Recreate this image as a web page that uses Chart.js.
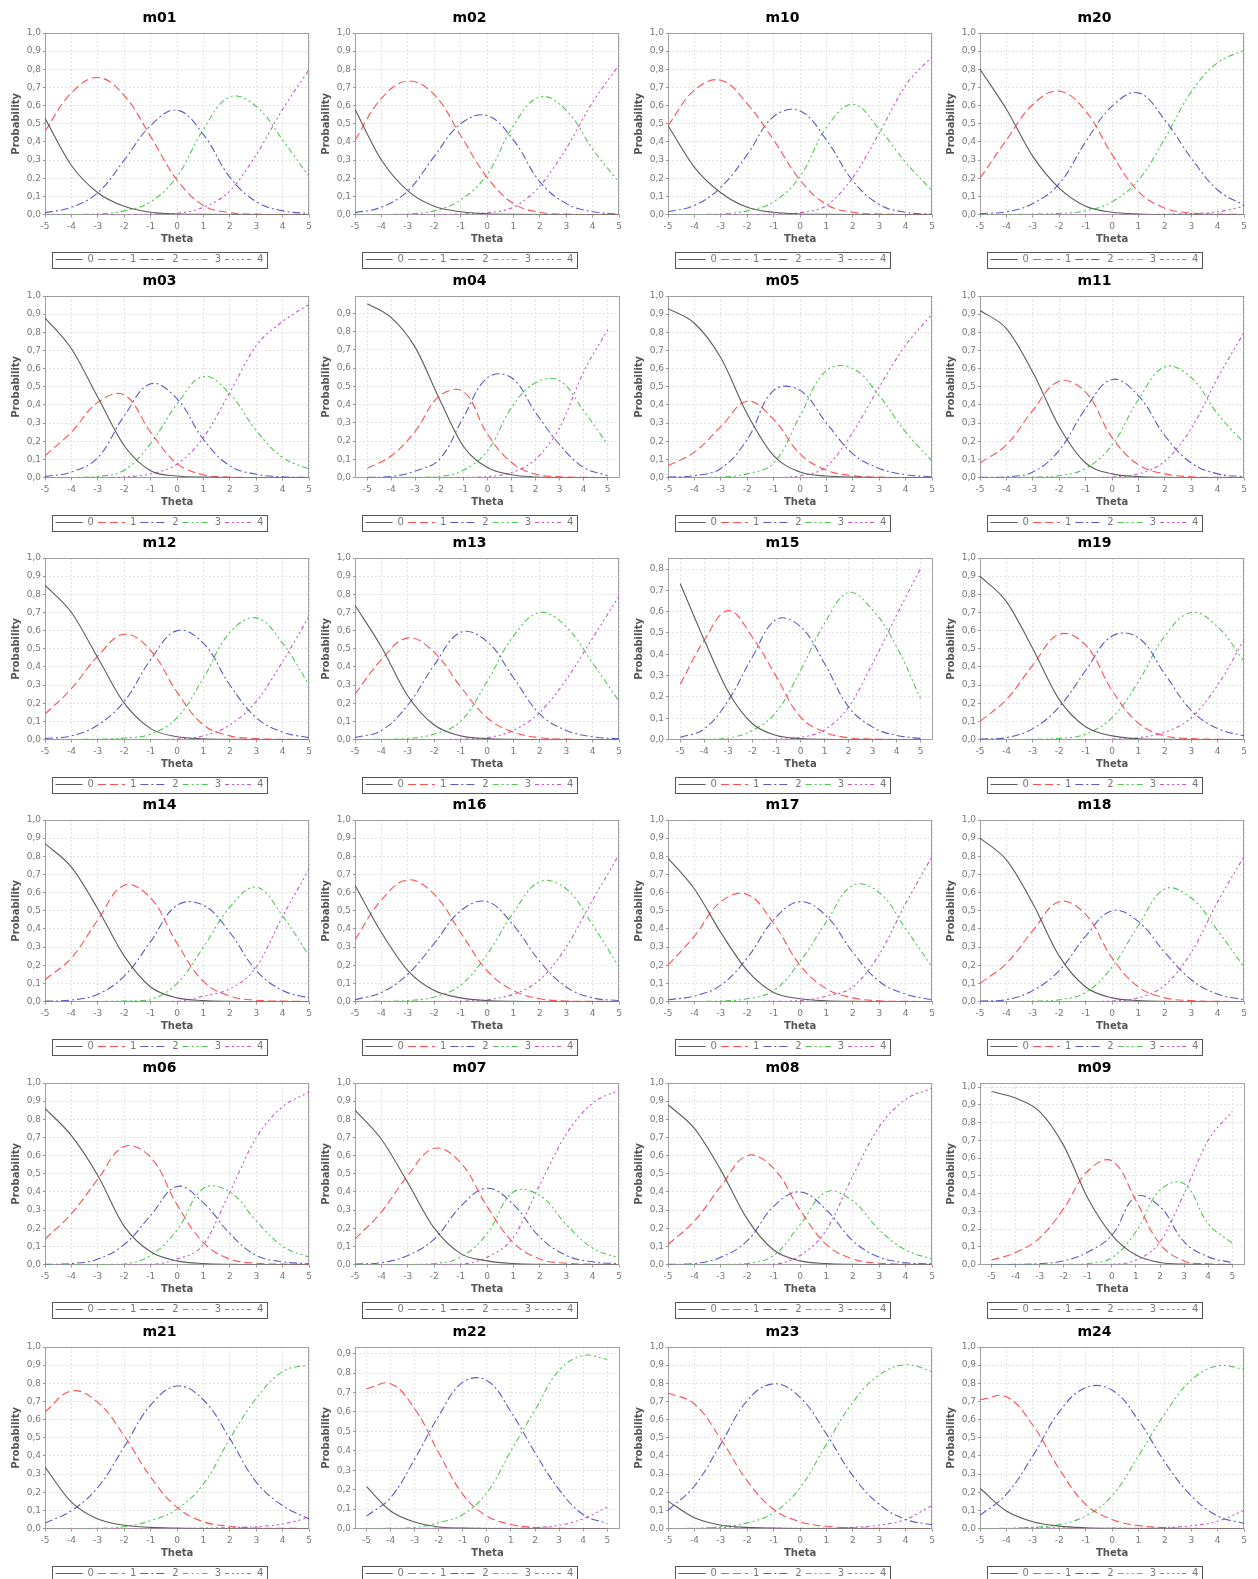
<!DOCTYPE html>
<html>
<head>
<meta charset="utf-8">
<title>Category probability curves</title>
<script src="https://cdn.jsdelivr.net/npm/chart.js@4.4.1/dist/chart.umd.min.js"></script>
<style>
  html, body { margin: 0; padding: 0; background: #fff; overflow: hidden; }
  body { width: 1258px; height: 1579px; position: relative; }
  canvas { position: absolute; }
</style>
</head>
<body>
<script>
// theta grid + tick labels
const theta = [-5, -4, -3, -2, -1, 0, 1, 2, 3, 4, 5];
const categories = ["0", "1", "2", "3", "4"];
const probTicks = [0, 0.1, 0.2, 0.3, 0.4, 0.5, 0.6, 0.7, 0.8, 0.9, 1.0];

// one array per item, one row per category (0..4), values read at each theta
const m01 = [
  [0.53, 0.27, 0.12, 0.045, 0.012, 0.003, 0.001, 0, 0, 0, 0],
  [0.46, 0.67, 0.755, 0.655, 0.43, 0.19, 0.05, 0.01, 0.002, 0, 0],
  [0.01, 0.04, 0.12, 0.30, 0.49, 0.575, 0.44, 0.205, 0.07, 0.02, 0.005],
  [0, 0, 0.003, 0.02, 0.07, 0.21, 0.47, 0.648, 0.595, 0.41, 0.207],
  [0, 0, 0, 0, 0.002, 0.007, 0.04, 0.13, 0.33, 0.58, 0.80]
];
const m02 = [
  [0.58, 0.30, 0.13, 0.045, 0.015, 0.004, 0.001, 0, 0, 0, 0],
  [0.41, 0.64, 0.735, 0.66, 0.435, 0.205, 0.06, 0.012, 0.002, 0, 0],
  [0.01, 0.04, 0.13, 0.32, 0.50, 0.545, 0.41, 0.18, 0.06, 0.015, 0.003],
  [0, 0, 0.003, 0.02, 0.08, 0.22, 0.49, 0.648, 0.574, 0.36, 0.176],
  [0, 0, 0, 0, 0.003, 0.01, 0.04, 0.157, 0.365, 0.62, 0.824]
];
const m10 = [
  [0.49, 0.26, 0.12, 0.04, 0.012, 0.003, 0.001, 0, 0, 0, 0],
  [0.49, 0.685, 0.74, 0.61, 0.41, 0.19, 0.055, 0.012, 0.003, 0, 0],
  [0.015, 0.05, 0.15, 0.33, 0.54, 0.57, 0.41, 0.185, 0.055, 0.012, 0.002],
  [0, 0, 0.003, 0.02, 0.07, 0.21, 0.48, 0.607, 0.47, 0.287, 0.13],
  [0, 0, 0, 0, 0.002, 0.01, 0.05, 0.204, 0.45, 0.713, 0.87]
];
const m20 = [
  [0.80, 0.58, 0.32, 0.145, 0.045, 0.012, 0.003, 0, 0, 0, 0],
  [0.20, 0.41, 0.606, 0.68, 0.57, 0.33, 0.126, 0.035, 0.008, 0.002, 0],
  [0.005, 0.015, 0.06, 0.17, 0.40, 0.597, 0.67, 0.52, 0.31, 0.135, 0.05],
  [0, 0, 0.002, 0.006, 0.02, 0.07, 0.19, 0.42, 0.676, 0.837, 0.905],
  [0, 0, 0, 0, 0, 0, 0, 0.001, 0.005, 0.015, 0.045]
];
const m03 = [
  [0.88, 0.709, 0.442, 0.175, 0.037, 0.008, 0.002, 0, 0, 0, 0],
  [0.12, 0.25, 0.414, 0.455, 0.249, 0.077, 0.015, 0.003, 0, 0, 0],
  [0.005, 0.03, 0.11, 0.34, 0.516, 0.433, 0.21, 0.064, 0.018, 0.004, 0.001],
  [0, 0, 0.006, 0.04, 0.188, 0.405, 0.556, 0.46, 0.258, 0.11, 0.046],
  [0, 0, 0, 0.003, 0.02, 0.074, 0.22, 0.47, 0.727, 0.86, 0.955]
];
const m04 = [
  [0.953, 0.876, 0.712, 0.43, 0.17, 0.055, 0.015, 0.003, 0, 0, 0],
  [0.05, 0.119, 0.255, 0.447, 0.47, 0.237, 0.082, 0.018, 0.004, 0.001, 0],
  [0.001, 0.005, 0.036, 0.10, 0.33, 0.547, 0.547, 0.356, 0.18, 0.055, 0.01],
  [0, 0, 0.001, 0.005, 0.04, 0.146, 0.383, 0.52, 0.53, 0.365, 0.18],
  [0, 0, 0, 0, 0.001, 0.005, 0.027, 0.10, 0.274, 0.58, 0.81]
];
const m05 = [
  [0.93, 0.85, 0.66, 0.35, 0.12, 0.03, 0.008, 0.002, 0, 0, 0],
  [0.065, 0.14, 0.28, 0.42, 0.32, 0.13, 0.04, 0.01, 0.002, 0, 0],
  [0.002, 0.01, 0.05, 0.21, 0.48, 0.48, 0.30, 0.13, 0.05, 0.015, 0.004],
  [0, 0, 0.002, 0.02, 0.08, 0.34, 0.59, 0.60, 0.45, 0.25, 0.09],
  [0, 0, 0, 0, 0, 0.01, 0.06, 0.25, 0.50, 0.73, 0.90]
];
const m11 = [
  [0.92, 0.82, 0.58, 0.28, 0.08, 0.02, 0.005, 0.001, 0, 0, 0],
  [0.08, 0.18, 0.37, 0.53, 0.47, 0.22, 0.07, 0.02, 0.004, 0.001, 0],
  [0.001, 0.004, 0.03, 0.15, 0.38, 0.54, 0.45, 0.23, 0.08, 0.02, 0.005],
  [0, 0, 0.002, 0.01, 0.05, 0.18, 0.43, 0.61, 0.55, 0.35, 0.19],
  [0, 0, 0, 0, 0, 0.003, 0.02, 0.09, 0.27, 0.55, 0.80]
];
const m12 = [
  [0.85, 0.70, 0.45, 0.20, 0.06, 0.015, 0.004, 0.001, 0, 0, 0],
  [0.14, 0.28, 0.46, 0.58, 0.49, 0.26, 0.08, 0.02, 0.005, 0.001, 0],
  [0.005, 0.02, 0.08, 0.21, 0.44, 0.60, 0.53, 0.30, 0.12, 0.04, 0.01],
  [0, 0, 0.002, 0.008, 0.03, 0.12, 0.34, 0.59, 0.67, 0.53, 0.30],
  [0, 0, 0, 0, 0, 0.003, 0.02, 0.08, 0.21, 0.43, 0.68]
];
const m13 = [
  [0.74, 0.51, 0.24, 0.08, 0.02, 0.005, 0.001, 0, 0, 0, 0],
  [0.25, 0.44, 0.56, 0.48, 0.29, 0.12, 0.04, 0.01, 0.002, 0, 0],
  [0.01, 0.05, 0.19, 0.41, 0.59, 0.54, 0.34, 0.14, 0.05, 0.015, 0.004],
  [0, 0.001, 0.006, 0.03, 0.10, 0.32, 0.57, 0.70, 0.62, 0.42, 0.21],
  [0, 0, 0, 0, 0.002, 0.01, 0.05, 0.15, 0.33, 0.56, 0.79]
];
const m15 = [
  [0.731, 0.467, 0.223, 0.074, 0.019, 0.005, 0.001, 0, 0, 0, 0],
  [0.26, 0.467, 0.605, 0.48, 0.294, 0.105, 0.035, 0.008, 0.002, 0, 0],
  [0.01, 0.05, 0.184, 0.388, 0.564, 0.53, 0.357, 0.153, 0.058, 0.019, 0.005],
  [0, 0.001, 0.007, 0.042, 0.13, 0.325, 0.545, 0.69, 0.608, 0.435, 0.19],
  [0, 0, 0, 0, 0.002, 0.01, 0.045, 0.152, 0.357, 0.585, 0.805]
];
const m19 = [
  [0.90, 0.76, 0.50, 0.22, 0.07, 0.02, 0.004, 0.001, 0, 0, 0],
  [0.10, 0.22, 0.41, 0.58, 0.52, 0.27, 0.09, 0.02, 0.005, 0.001, 0],
  [0.002, 0.01, 0.06, 0.18, 0.38, 0.57, 0.56, 0.36, 0.16, 0.06, 0.02],
  [0, 0, 0.001, 0.006, 0.03, 0.12, 0.32, 0.57, 0.70, 0.62, 0.43],
  [0, 0, 0, 0, 0, 0.002, 0.01, 0.04, 0.12, 0.30, 0.55]
];
const m14 = [
  [0.87, 0.74, 0.51, 0.25, 0.08, 0.02, 0.005, 0.001, 0, 0, 0],
  [0.12, 0.24, 0.45, 0.64, 0.57, 0.32, 0.11, 0.03, 0.007, 0.002, 0],
  [0.002, 0.008, 0.04, 0.14, 0.33, 0.53, 0.53, 0.38, 0.17, 0.06, 0.02],
  [0, 0, 0, 0.003, 0.01, 0.10, 0.30, 0.52, 0.63, 0.47, 0.25],
  [0, 0, 0, 0, 0, 0.001, 0.03, 0.07, 0.19, 0.47, 0.73]
];
const m16 = [
  [0.64, 0.38, 0.17, 0.06, 0.02, 0.005, 0.001, 0, 0, 0, 0],
  [0.34, 0.56, 0.67, 0.59, 0.38, 0.17, 0.06, 0.015, 0.003, 0.001, 0],
  [0.01, 0.05, 0.15, 0.32, 0.50, 0.55, 0.42, 0.22, 0.08, 0.02, 0.005],
  [0, 0.001, 0.005, 0.025, 0.09, 0.26, 0.49, 0.66, 0.62, 0.42, 0.19],
  [0, 0, 0, 0, 0.002, 0.01, 0.04, 0.12, 0.30, 0.56, 0.81]
];
const m17 = [
  [0.79, 0.62, 0.38, 0.17, 0.05, 0.015, 0.004, 0.001, 0, 0, 0],
  [0.20, 0.36, 0.55, 0.59, 0.43, 0.20, 0.07, 0.02, 0.004, 0.001, 0],
  [0.01, 0.03, 0.09, 0.24, 0.45, 0.55, 0.47, 0.27, 0.11, 0.04, 0.01],
  [0, 0, 0.003, 0.015, 0.06, 0.22, 0.44, 0.64, 0.60, 0.40, 0.19],
  [0, 0, 0, 0, 0.001, 0.005, 0.03, 0.08, 0.26, 0.54, 0.80]
];
const m18 = [
  [0.90, 0.78, 0.54, 0.25, 0.08, 0.02, 0.005, 0.001, 0, 0, 0],
  [0.10, 0.21, 0.39, 0.55, 0.48, 0.24, 0.08, 0.02, 0.005, 0.001, 0],
  [0.002, 0.01, 0.06, 0.17, 0.36, 0.50, 0.44, 0.27, 0.12, 0.04, 0.01],
  [0, 0, 0.002, 0.01, 0.05, 0.19, 0.42, 0.62, 0.57, 0.39, 0.19],
  [0, 0, 0, 0, 0, 0.003, 0.02, 0.09, 0.27, 0.55, 0.80]
];
const m06 = [
  [0.86, 0.71, 0.49, 0.21, 0.07, 0.02, 0.005, 0.001, 0, 0, 0],
  [0.14, 0.28, 0.47, 0.65, 0.59, 0.33, 0.12, 0.03, 0.007, 0.002, 0],
  [0.001, 0.005, 0.03, 0.11, 0.27, 0.43, 0.34, 0.17, 0.05, 0.015, 0.004],
  [0, 0, 0, 0.002, 0.05, 0.19, 0.42, 0.40, 0.24, 0.10, 0.04],
  [0, 0, 0, 0, 0.001, 0.03, 0.11, 0.40, 0.70, 0.87, 0.95]
];
const m07 = [
  [0.85, 0.69, 0.45, 0.20, 0.06, 0.02, 0.005, 0.001, 0, 0, 0],
  [0.14, 0.29, 0.49, 0.64, 0.56, 0.32, 0.12, 0.03, 0.007, 0.002, 0],
  [0.002, 0.01, 0.05, 0.14, 0.32, 0.42, 0.33, 0.15, 0.05, 0.015, 0.004],
  [0, 0, 0, 0.005, 0.04, 0.17, 0.40, 0.38, 0.22, 0.09, 0.035],
  [0, 0, 0, 0, 0.002, 0.04, 0.15, 0.44, 0.72, 0.89, 0.96]
];
const m08 = [
  [0.88, 0.75, 0.52, 0.25, 0.08, 0.02, 0.005, 0.001, 0, 0, 0],
  [0.11, 0.24, 0.43, 0.60, 0.53, 0.30, 0.11, 0.03, 0.007, 0.002, 0],
  [0.001, 0.005, 0.04, 0.13, 0.32, 0.40, 0.30, 0.13, 0.04, 0.01, 0.003],
  [0, 0, 0, 0.005, 0.05, 0.22, 0.40, 0.35, 0.19, 0.08, 0.03],
  [0, 0, 0, 0, 0.002, 0.05, 0.19, 0.49, 0.76, 0.91, 0.97]
];
const m09 = [
  [0.975, 0.938, 0.862, 0.67, 0.373, 0.166, 0.053, 0.011, 0.002, 0, 0],
  [0.025, 0.068, 0.15, 0.316, 0.527, 0.584, 0.36, 0.115, 0.02, 0.004, 0.001],
  [0, 0.001, 0.005, 0.02, 0.07, 0.166, 0.382, 0.326, 0.128, 0.043, 0.011],
  [0, 0, 0, 0.001, 0.005, 0.038, 0.185, 0.42, 0.455, 0.23, 0.12],
  [0, 0, 0, 0, 0, 0.002, 0.024, 0.128, 0.40, 0.70, 0.862]
];
const m21 = [
  [0.338, 0.145, 0.052, 0.018, 0.006, 0.002, 0, 0, 0, 0, 0],
  [0.643, 0.758, 0.695, 0.51, 0.283, 0.116, 0.037, 0.012, 0.003, 0.001, 0],
  [0.03, 0.098, 0.227, 0.45, 0.68, 0.785, 0.708, 0.495, 0.255, 0.126, 0.052],
  [0, 0, 0.001, 0.01, 0.043, 0.107, 0.246, 0.495, 0.717, 0.865, 0.902],
  [0, 0, 0, 0, 0, 0, 0.002, 0.005, 0.01, 0.025, 0.06]
];
const m22 = [
  [0.215, 0.09, 0.033, 0.008, 0.002, 0, 0, 0, 0, 0, 0],
  [0.719, 0.745, 0.616, 0.39, 0.176, 0.064, 0.021, 0.005, 0.001, 0, 0],
  [0.064, 0.159, 0.357, 0.58, 0.753, 0.762, 0.60, 0.39, 0.20, 0.072, 0.026],
  [0, 0.001, 0.005, 0.03, 0.072, 0.184, 0.40, 0.61, 0.814, 0.89, 0.871],
  [0, 0, 0, 0.002, 0.001, 0.001, 0.001, 0.005, 0.016, 0.05, 0.11]
];
const m23 = [
  [0.151, 0.059, 0.018, 0.006, 0.002, 0, 0, 0, 0, 0, 0],
  [0.747, 0.686, 0.493, 0.262, 0.105, 0.037, 0.012, 0.004, 0.001, 0, 0],
  [0.10, 0.234, 0.465, 0.705, 0.797, 0.723, 0.52, 0.29, 0.133, 0.05, 0.02],
  [0, 0.001, 0.01, 0.031, 0.087, 0.225, 0.465, 0.696, 0.847, 0.902, 0.865],
  [0, 0, 0.005, 0.002, 0.001, 0.001, 0.001, 0.007, 0.018, 0.05, 0.127]
];
const m24 = [
  [0.222, 0.096, 0.037, 0.013, 0.004, 0.001, 0, 0, 0, 0, 0],
  [0.709, 0.726, 0.569, 0.328, 0.133, 0.05, 0.016, 0.005, 0.001, 0, 0],
  [0.072, 0.189, 0.40, 0.643, 0.776, 0.763, 0.596, 0.365, 0.18, 0.069, 0.028],
  [0, 0.001, 0.007, 0.022, 0.069, 0.18, 0.40, 0.633, 0.818, 0.896, 0.878],
  [0, 0, 0.005, 0.003, 0.001, 0.001, 0.001, 0.005, 0.015, 0.04, 0.10]
];

const items = { m01, m02, m10, m20, m03, m04, m05, m11, m12, m13, m15, m19,
  m14, m16, m17, m18, m06, m07, m08, m09, m21, m22, m23, m24 };

// page order, row by row
const pageGrid = [
  ["m01", "m02", "m10", "m20"],
  ["m03", "m04", "m05", "m11"],
  ["m12", "m13", "m15", "m19"],
  ["m14", "m16", "m17", "m18"],
  ["m06", "m07", "m08", "m09"],
  ["m21", "m22", "m23", "m24"]
];

// items whose axes were auto-ranged with a margin
const xRange = { m04: [-5.51, 5.51], m15: [-5.51, 5.51], m09: [-5.48, 5.53], m22: [-5.48, 5.53] };
const yMax = { m04: 0.995, m15: 0.852, m09: 1.023, m22: 0.934 };

// line look per category
const lineColors = ["#5c5c5c", "#ff5050", "#5a5ac8", "#50c850", "#c855c8"];
const lineDashes = [[], [8, 4], [8, 3, 2, 3], [6, 3, 2, 3, 2, 3], [4, 3, 2, 3, 2, 3, 2, 3]];

const colLeft = [4, 314, 627, 939];
const rowTop = [0, 263, 525, 787, 1050, 1314];
const FONT = "'DejaVu Sans', Tahoma, sans-serif";

// plot outline + box round the legend
const framePlugin = {
  id: "frame",
  beforeDatasetsDraw(chart) {
    const { ctx, chartArea: a } = chart;
    ctx.save();
    ctx.strokeStyle = "#a0a0a0";
    ctx.lineWidth = 1;
    ctx.setLineDash([]);
    ctx.strokeRect(Math.round(a.left) + 0.5, Math.round(a.top) + 0.5,
      Math.round(a.right - a.left) - 1, Math.round(a.bottom - a.top) - 1);
    ctx.restore();
  },
  afterDraw(chart) {
    const hb = chart.legend && chart.legend.legendHitBoxes;
    if (!hb || !hb.length) return;
    const first = hb[0];
    const last = hb[hb.length - 1];
    const x0 = Math.round(first.left - 4) + 0.5;
    const x1 = Math.round(last.left + last.width + 4) + 0.5;
    const y0 = Math.round(first.top - 3) + 0.5;
    const y1 = Math.round(first.top + first.height + 3) + 0.5;
    const ctx = chart.ctx;
    ctx.save();
    ctx.strokeStyle = "#555";
    ctx.lineWidth = 1;
    ctx.setLineDash([]);
    ctx.strokeRect(x0, y0, x1 - x0, y1 - y0);
    ctx.restore();
  }
};

function makeDatasets(rows) {
  return rows.map((vals, k) => ({
    label: categories[k],
    data: vals.map((v, i) => ({ x: theta[i], y: v })),
    borderColor: lineColors[k],
    backgroundColor: lineColors[k],
    borderDash: lineDashes[k],
    borderWidth: 1.1,
    pointRadius: 0,
    // end categories only rise or fall, so keep them monotone
    cubicInterpolationMode: (k === 0 || k === 4) ? "monotone" : "default",
    tension: 0.4,
    fill: false
  }));
}

// legend entries built by hand so each keeps its colour and dash
function legendItems(chart) {
  return chart.data.datasets.map((ds, i) => ({
    text: ds.label,
    fillStyle: ds.borderColor,
    strokeStyle: ds.borderColor,
    fontColor: "#777",
    lineWidth: 1.1,
    lineDash: ds.borderDash,
    lineCap: "butt",
    pointStyle: "line",
    hidden: false,
    datasetIndex: i
  }));
}

function drawItem(name, col, row) {
  const canvas = document.createElement("canvas");
  canvas.width = 312;
  canvas.height = 277;
  canvas.style.left = colLeft[col] + "px";
  canvas.style.top = rowTop[row] + "px";
  document.body.appendChild(canvas);

  const xr = xRange[name] || [-5, 5];
  const ym = yMax[name] || 1;
  const gridStyle = { color: "#e2e2e2", lineWidth: 1, tickColor: "#999", drawTicks: true };

  new Chart(canvas.getContext("2d"), {
    type: "line",
    data: { datasets: makeDatasets(items[name]) },
    options: {
      responsive: false,
      animation: false,
      events: [],
      layout: { padding: { left: 5, right: 6, top: 0, bottom: 2.5 } },
      plugins: {
        title: {
          display: true,
          text: name,
          color: "#000",
          font: { family: FONT, size: 14, weight: "bold" },
          padding: { top: 9.6, bottom: 6.6 }
        },
        legend: {
          position: "bottom",
          labels: {
            usePointStyle: true,
            pointStyle: "line",
            pointStyleWidth: 27,
            boxHeight: 10,
            padding: 4,
            color: "#777",
            font: { family: FONT, size: 10 },
            generateLabels: legendItems
          }
        },
        tooltip: { enabled: false }
      },
      scales: {
        x: {
          type: "linear",
          min: xr[0],
          max: xr[1],
          afterBuildTicks: (s) => { s.ticks = theta.map((v) => ({ value: v })); },
          afterFit: (s) => { s.height = 36; },
          ticks: {
            color: "#777",
            font: { family: FONT, size: 9 },
            padding: 4,
            maxRotation: 0,
            autoSkip: false,
            callback: (v) => String(v)
          },
          grid: Object.assign({ tickLength: 3 }, gridStyle),
          border: { display: false, dash: [2, 2] },
          title: {
            display: true,
            text: "Theta",
            color: "#555",
            font: { family: FONT, size: 10, weight: "bold" },
            padding: { top: 0, bottom: 5 }
          }
        },
        y: {
          type: "linear",
          min: 0,
          max: ym,
          afterBuildTicks: (s) => {
            s.ticks = probTicks.filter((v) => v <= ym + 1e-9).map((v) => ({ value: v }));
          },
          afterFit: (s) => { s.width = 36; },
          ticks: {
            color: "#777",
            font: { family: FONT, size: 9 },
            padding: 2,
            autoSkip: false,
            callback: (v) => v.toFixed(1).replace(".", ",")
          },
          grid: Object.assign({ tickLength: 2 }, gridStyle),
          border: { display: false, dash: [2, 2] },
          title: {
            display: true,
            text: "Probability",
            color: "#555",
            font: { family: FONT, size: 10, weight: "bold" },
            padding: { top: 1, bottom: 0 }
          }
        }
      }
    },
    plugins: [framePlugin]
  });
}

pageGrid.forEach((names, r) => names.forEach((name, c) => drawItem(name, c, r)));
</script>
</body>
</html>
